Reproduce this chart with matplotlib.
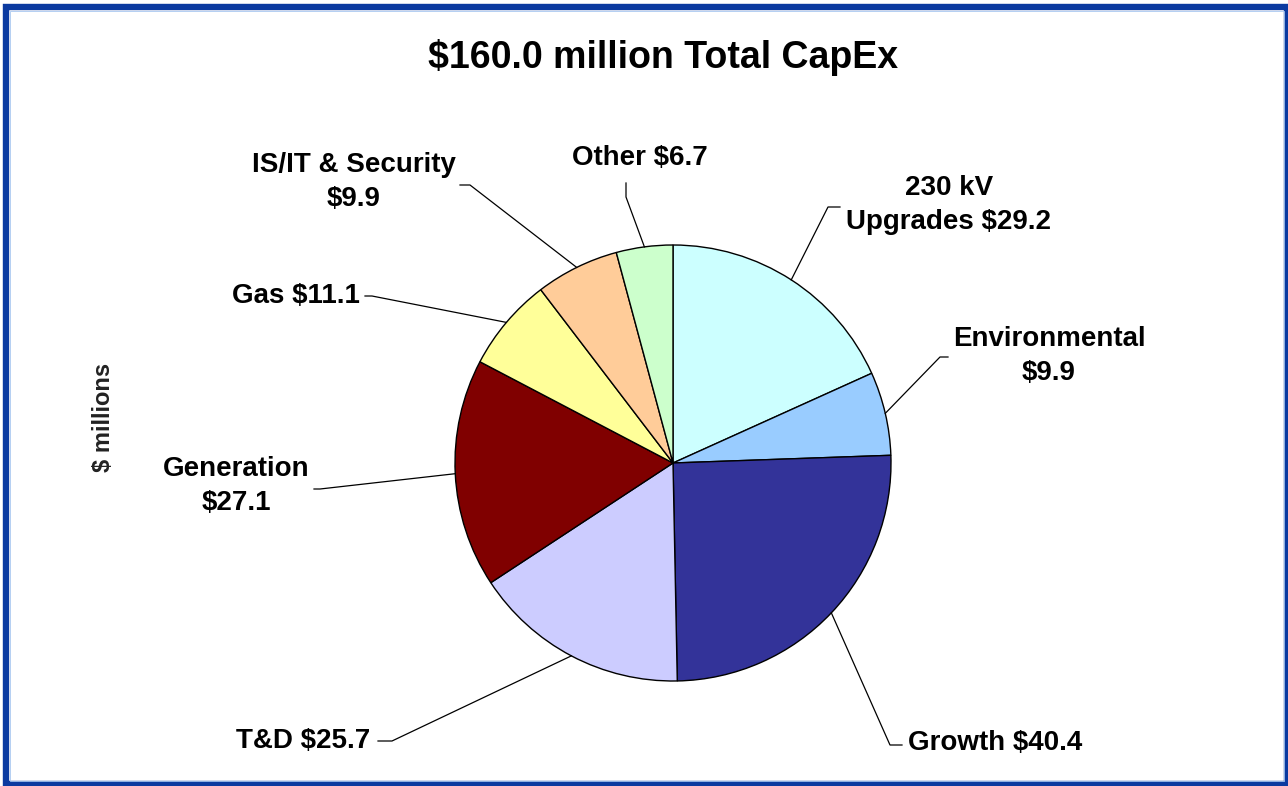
import numpy as np
import matplotlib
matplotlib.use("Agg")
import matplotlib.pyplot as plt
from matplotlib.patches import Rectangle

plt.rcParams["font.family"] = ["Liberation Sans", "DejaVu Sans"]

categories = ["230 kV\nUpgrades", "Environmental\n", "Growth", "T&D", "Generation\n",
              "Gas", "IS/IT & Security\n", "Other"]
capex = [29.2, 9.9, 40.4, 25.7, 27.1, 11.1, 9.9, 6.7]
colors = ["#CCFFFF", "#99CCFF", "#333399", "#CCCCFF", "#800000",
          "#FFFF99", "#FFCC99", "#CCFFCC"]

# label layout in pixel space: (text x, text y, ha, elbow x, elbow y, end x, end y)
label_layout = [
    (949, 205, "center", 828, 207, 840, 207),
    (1049, 356, "center", 940, 357, 948, 357),
    (908, 743, "left", 890, 745, 902, 745),
    (370, 741, "right", 392, 741, 378, 741),
    (236, 486, "center", 320, 489, 314, 489),
    (360, 296, "right", 372, 296, 365, 296),
    (354, 182, "center", 470, 185, 460, 185),
    (640, 158, "center", 626, 197, 626, 183),
]

W, H = 1288, 786
CX, CY, R = 673, 463, 218


def to_data(px, py):
    return (px - CX) / R, (CY - py) / R


def plot_capex_pie():
    fig = plt.figure(figsize=(W / 100, H / 100), dpi=100)
    ax = fig.add_axes([0, 0, 1, 1])

    wedges, _ = ax.pie(capex, colors=colors, startangle=90, counterclock=False,
                       radius=1, wedgeprops=dict(edgecolor="black", linewidth=1.0))

    ax.set_xlim(-CX / R, (W - CX) / R)
    ax.set_ylim(-(H - CY) / R, CY / R)
    ax.set_aspect("equal")
    ax.axis("off")

    for wedge, name, value, lay in zip(wedges, categories, capex, label_layout):
        tx, ty, ha, ex, ey, lx, ly = lay
        mid = np.deg2rad((wedge.theta1 + wedge.theta2) / 2)
        x0, y0 = np.cos(mid), np.sin(mid)
        x1, y1 = to_data(ex, ey)
        x2, y2 = to_data(lx, ly)
        ax.plot([x0, x1, x2], [y0, y1, y2], color="black", linewidth=0.9)
        if name.endswith("\n"):
            text = f"{name}${value:.1f}"
        else:
            text = f"{name} ${value:.1f}"
        ax.text(*to_data(tx, ty), text, ha=ha, va="center", fontsize=20,
                fontweight="bold", linespacing=1.42, multialignment="center")

    fig.text(663 / W, 1 - 58 / H, f"${sum(capex):.1f} million Total CapEx",
             ha="center", va="center", fontsize=27, fontweight="bold")
    fig.text(103 / W, 1 - 417 / H, "$ millions", rotation=90, ha="center",
             va="center", fontsize=17, fontweight="bold", color="#222222")

    # blue frame around the chart
    fig.patches.append(Rectangle((6 / W, 2.5 / H), 1281 / W, 776.5 / H,
                                 transform=fig.transFigure, fill=False,
                                 edgecolor="#0B3AA0", linewidth=4.6))
    fig.patches.append(Rectangle((9.5 / W, 5.5 / H), 1274 / W, 770 / H,
                                 transform=fig.transFigure, fill=False,
                                 edgecolor="#A8C8F0", linewidth=0.6))

    fig.savefig("out.png", dpi=100, facecolor="white")


def main():
    plot_capex_pie()


if __name__ == "__main__":
    main()
